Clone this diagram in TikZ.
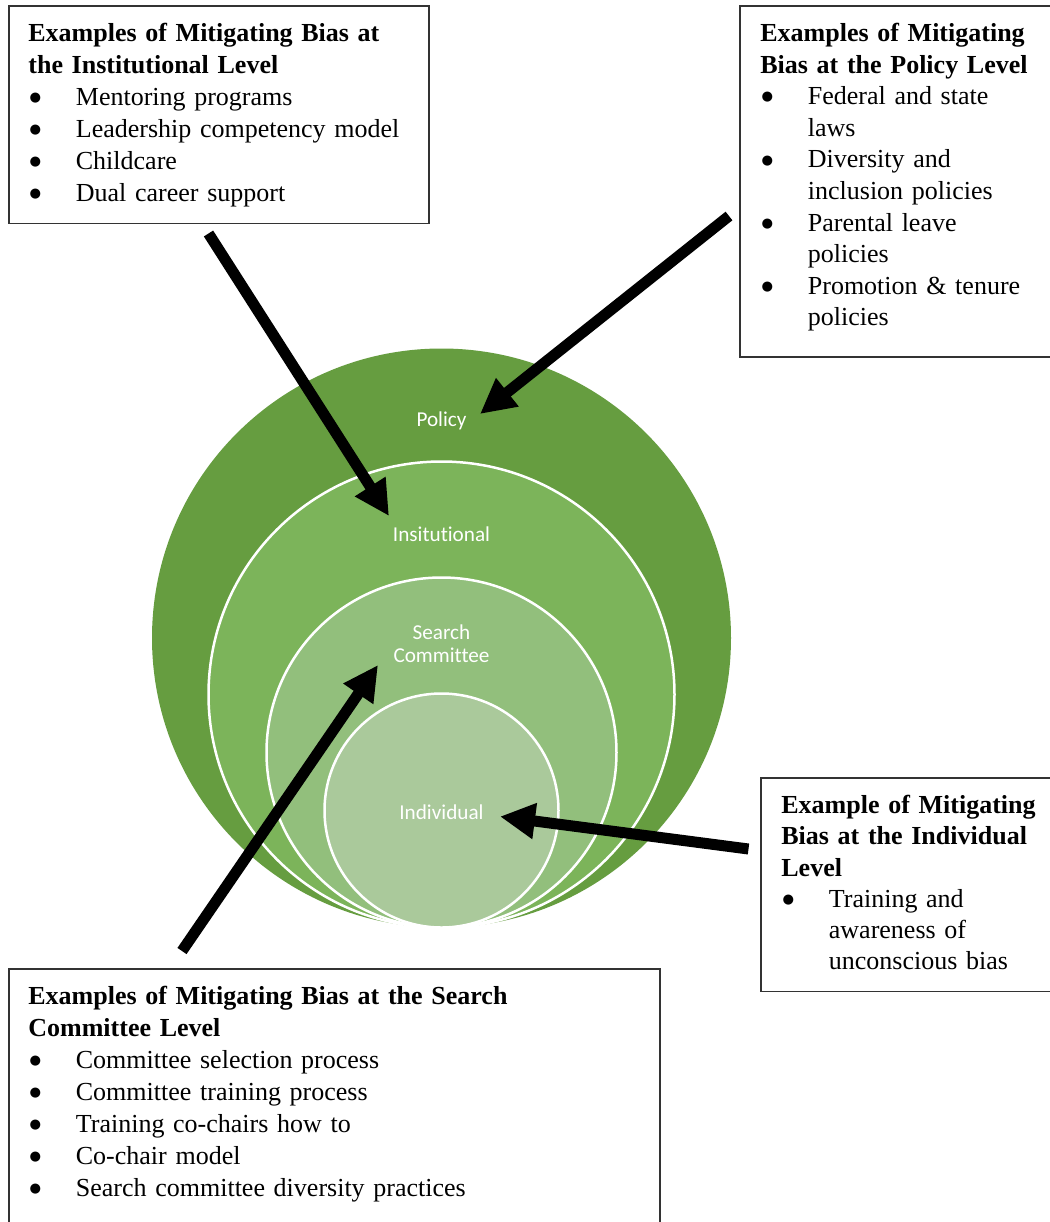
\documentclass[tikz,border=0pt]{standalone}
\usepackage{fontspec}
\setmainfont{Liberation Serif}
\newfontfamily\calfont[Ligatures=NoCommon]{Carlito}
\newfontfamily\dvfont{DejaVu Sans}
\usetikzlibrary{arrows.meta}
\definecolor{gPolicy}{HTML}{669D40}
\definecolor{gInst}{HTML}{7CB45A}
\definecolor{gSearch}{HTML}{92BF7C}
\definecolor{gIndiv}{HTML}{AAC99B}
\newlength\bulw
\setlength\bulw{23.75pt}
\newcommand\bulletitem[1]{\makebox[\bulw][l]{\hspace{0.6pt}\raisebox{1.9pt}{\dvfont\fontsize{6.6}{6.6}\selectfont ●}}#1}
\newcommand\bulletcont[1]{\hspace*{\bulw}#1}
\begin{document}
\begin{tikzpicture}[x=0.5pt,y=-0.5pt,
  ring/.style={circle, inner sep=0pt, draw=white, line width=1.25pt},
  lbl/.style={text=white, font=\calfont\fontsize{10.6}{11.5}\selectfont, align=center, inner sep=0pt},
  frame/.style={draw=black!80, line width=0.75pt, anchor=north west, inner sep=0pt, fill=none},
  txt/.style={anchor=north west, inner sep=0pt, align=left, font=\fontsize{13}{16}\selectfont},
  arr/.style={line width=5.5pt, -{Triangle[length=17.5pt,width=17pt]}}
]
\useasboundingbox (0,0) rectangle (1050,1222);
\clip (0,0) rectangle (1050,1222);
\fill[white] (0,0) rectangle (1050,1222);

% nested circles
\node[circle, inner sep=0pt, fill=gPolicy, minimum size=289.5pt] (cPolicy) at (441.5,638) {};
\node[ring, fill=gInst, minimum size=233pt] (cInst) at (441.5,694.5) {};
\node[ring, fill=gSearch, minimum size=175pt] (cSearch) at (441.5,752.5) {};
\node[ring, fill=gIndiv, minimum size=117pt] (cIndiv) at (441.5,810.5) {};

% circle labels
\node[lbl] (lPolicy) at (441.5,421) {Policy};
\node[lbl] (lInst) at (441.5,534) {Insitutional};
\node[lbl] (lSearch) at (441.5,644) {Search\\Committee};
\node[lbl] (lIndiv) at (441.5,812) {Individual};

% boxes
\node[frame, minimum width=210pt, minimum height=108.75pt] (bInst) at (8,5) {};
\node[frame, minimum width=165pt, minimum height=175.5pt] (bPolicy) at (739,5) {};
\node[frame, minimum width=155pt, minimum height=106.75pt] (bIndiv) at (760,777) {};
\node[frame, minimum width=325.5pt, minimum height=140pt] (bSearch) at (8,968) {};

\node[txt, text width=205pt] (tInst) at (28,18.6) {\strut\textbf{Examples of Mitigating Bias at}\\
\textbf{the Institutional Level}\\
\bulletitem{Mentoring programs}\\
\bulletitem{Leadership competency model}\\
\bulletitem{Childcare}\\
\bulletitem{Dual career support}};

\node[txt, text width=150pt, font=\fontsize{13}{15.8}\selectfont] (tPolicy) at (760,19) {\strut\textbf{Examples of Mitigating}\\
\textbf{Bias at the Policy Level}\\
\bulletitem{Federal and state}\\
\bulletcont{laws}\\
\bulletitem{Diversity and}\\
\bulletcont{inclusion policies}\\
\bulletitem{Parental leave}\\
\bulletcont{policies}\\
\bulletitem{Promotion \& tenure}\\
\bulletcont{policies}};

\node[txt, text width=140pt, font=\fontsize{13}{15.6}\selectfont] (tIndiv) at (781,791.5) {\strut\textbf{Example of Mitigating}\\
\textbf{Bias at the Individual}\\
\textbf{Level}\\
\bulletitem{Training and}\\
\bulletcont{awareness of}\\
\bulletcont{unconscious bias}};

\node[txt, text width=320pt] (tSearch) at (28,981.6) {\strut\textbf{Examples of Mitigating Bias at the Search}\\
\textbf{Committee Level}\\
\bulletitem{Committee selection process}\\
\bulletitem{Committee training process}\\
\bulletitem{Training co-chairs how to}\\
\bulletitem{Co-chair model}\\
\bulletitem{Search committee diversity practices}};

% arrows
\coordinate (aInstS) at (208.5,233.5);
\coordinate (aInstE) at (389,516);
\coordinate (aPolS) at (729,216);
\coordinate (aPolE) at (480,414);
\coordinate (aSrchS) at (182,951);
\coordinate (aSrchE) at (378,665);
\coordinate (aIndS) at (748.5,849);
\coordinate (aIndE) at (500,816.5);
\draw[arr] (aInstS) -- (aInstE);
\draw[arr] (aPolS) -- (aPolE);
\draw[arr] (aSrchS) -- (aSrchE);
\draw[arr] (aIndS) -- (aIndE);
\end{tikzpicture}
\end{document}
